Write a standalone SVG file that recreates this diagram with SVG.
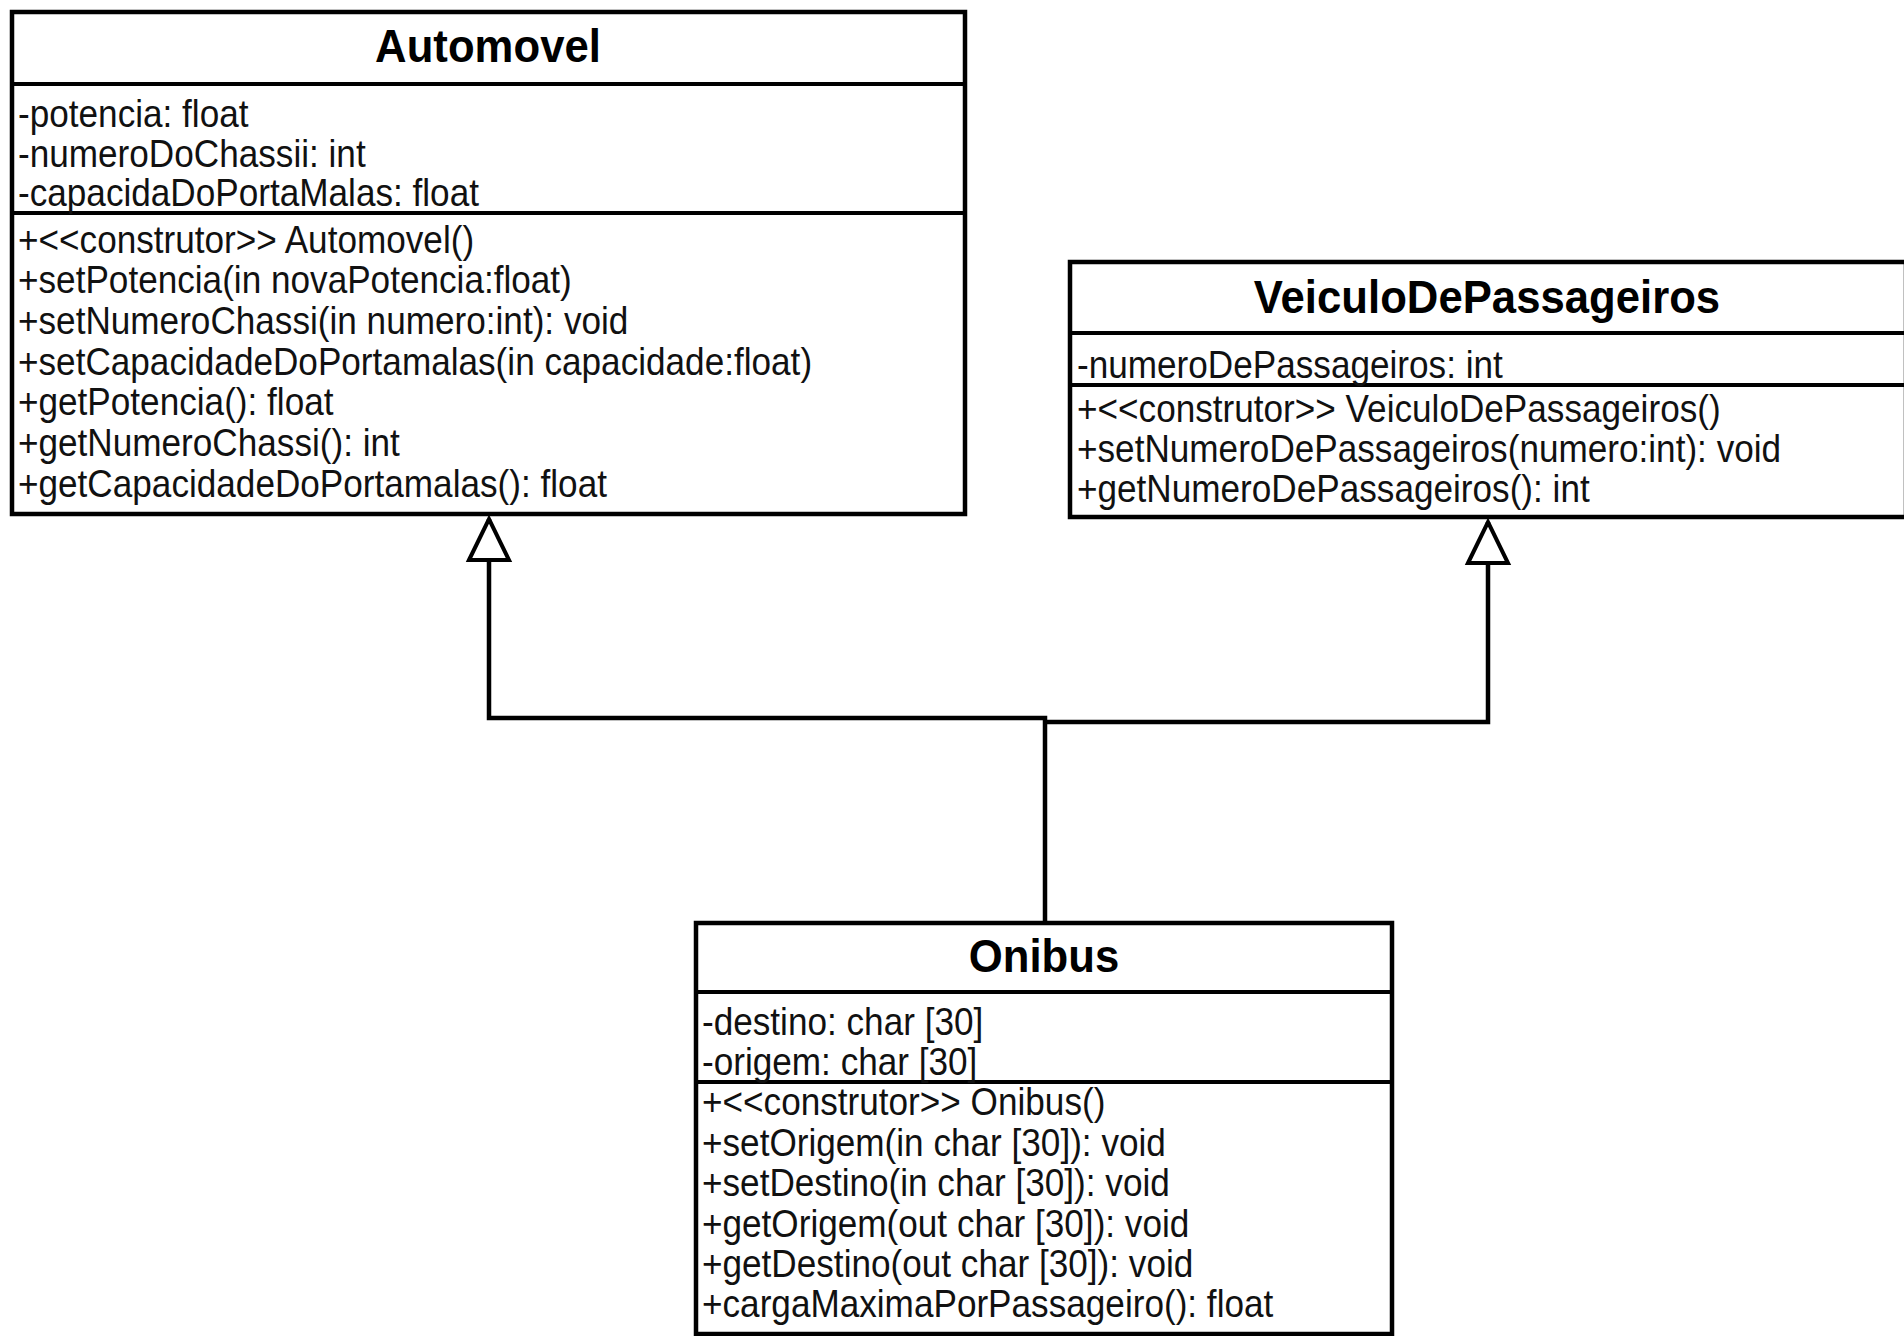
<svg xmlns="http://www.w3.org/2000/svg" width="1904" height="1336" viewBox="0 0 1904 1336">
  <style>
    .box { fill: #ffffff; stroke: #000000; stroke-width: 4.5; }
    .sep { stroke: #000000; stroke-width: 4; fill: none; }
    .title { font-family: "Liberation Sans", Arial, sans-serif; font-weight: bold; font-size: 46px; fill: #000000; text-anchor: middle; }
    .txt { font-family: "Liberation Sans", Arial, sans-serif; font-size: 38px; fill: #111111; }
    .edge { fill: none; stroke: #000000; stroke-width: 4.5; }
  </style>
  <defs>
    <!-- hollow triangle for generalization -->
    <marker id="gen" markerUnits="userSpaceOnUse" orient="auto" refX="41" refY="0" markerWidth="50" markerHeight="50" overflow="visible">
      <path d="M0,-20 L41,0 L0,20 Z" fill="#ffffff" stroke="#000000" stroke-width="4"/>
    </marker>
  </defs>
  <rect width="1904" height="1336" fill="#ffffff"/>

  <g id="connectors">
    <path class="edge" d="M1045,923 V718 H489 V519" marker-end="url(#gen)"/>
    <path class="edge" d="M1045,722 H1488 V522" marker-end="url(#gen)"/>
  </g>

  <g id="automovel">
    <rect class="box" x="12" y="12" width="953" height="502"/>
    <line class="sep" x1="12" y1="84" x2="965" y2="84"/>
    <line class="sep" x1="12" y1="213" x2="965" y2="213"/>
    <g transform="translate(488 0) scale(0.95 1)">
      <text class="title" x="0" y="62">Automovel</text>
    </g>
    <g transform="translate(18 0) scale(0.925 1)">
      <text class="txt" x="0" y="127">-potencia: float</text>
      <text class="txt" x="0" y="167">-numeroDoChassii: int</text>
      <text class="txt" x="0" y="206">-capacidaDoPortaMalas: float</text>
      <text class="txt" x="0" y="253">+&lt;&lt;construtor&gt;&gt; Automovel()</text>
      <text class="txt" x="0" y="293">+setPotencia(in novaPotencia:float)</text>
      <text class="txt" x="0" y="334">+setNumeroChassi(in numero:int): void</text>
      <text class="txt" x="0" y="375">+setCapacidadeDoPortamalas(in capacidade:float)</text>
      <text class="txt" x="0" y="415">+getPotencia(): float</text>
      <text class="txt" x="0" y="456">+getNumeroChassi(): int</text>
      <text class="txt" x="0" y="497">+getCapacidadeDoPortamalas(): float</text>
    </g>
  </g>

  <g id="veiculoDePassageiros">
    <rect class="box" x="1070" y="262" width="836" height="255"/>
    <line class="sep" x1="1070" y1="333" x2="1906" y2="333"/>
    <line class="sep" x1="1070" y1="385" x2="1906" y2="385"/>
    <g transform="translate(1487 0) scale(0.95 1)">
      <text class="title" x="0" y="313">VeiculoDePassageiros</text>
    </g>
    <g transform="translate(1077 0) scale(0.925 1)">
      <text class="txt" x="0" y="378">-numeroDePassageiros: int</text>
      <text class="txt" x="0" y="422">+&lt;&lt;construtor&gt;&gt; VeiculoDePassageiros()</text>
      <text class="txt" x="0" y="462">+setNumeroDePassageiros(numero:int): void</text>
      <text class="txt" x="0" y="502">+getNumeroDePassageiros(): int</text>
    </g>
  </g>

  <g id="onibus">
    <rect class="box" x="696" y="923" width="696" height="411"/>
    <line class="sep" x1="696" y1="992" x2="1392" y2="992"/>
    <line class="sep" x1="696" y1="1082" x2="1392" y2="1082"/>
    <g transform="translate(1044 0) scale(0.95 1)">
      <text class="title" x="0" y="972">Onibus</text>
    </g>
    <g transform="translate(702 0) scale(0.925 1)">
      <text class="txt" x="0" y="1035">-destino: char [30]</text>
      <text class="txt" x="0" y="1075">-origem: char [30]</text>
      <text class="txt" x="0" y="1115">+&lt;&lt;construtor&gt;&gt; Onibus()</text>
      <text class="txt" x="0" y="1156">+setOrigem(in char [30]): void</text>
      <text class="txt" x="0" y="1196">+setDestino(in char [30]): void</text>
      <text class="txt" x="0" y="1237">+getOrigem(out char [30]): void</text>
      <text class="txt" x="0" y="1277">+getDestino(out char [30]): void</text>
      <text class="txt" x="0" y="1317">+cargaMaximaPorPassageiro(): float</text>
    </g>
  </g>
</svg>
